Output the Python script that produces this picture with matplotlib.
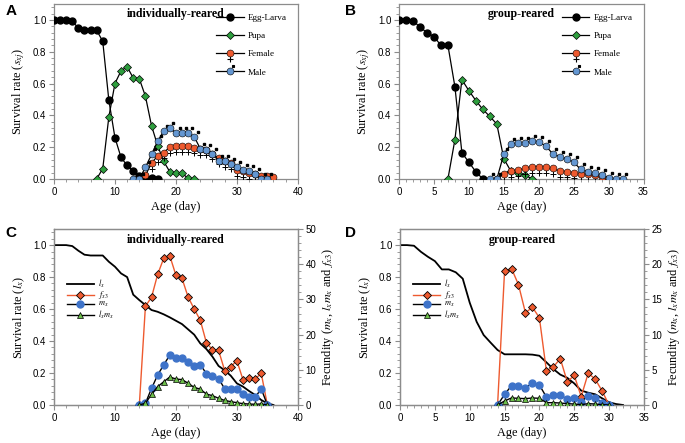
import matplotlib
matplotlib.use("Agg")
import matplotlib.pyplot as plt
import numpy as np
from matplotlib.lines import Line2D
from matplotlib.legend_handler import HandlerLine2D
from matplotlib.ticker import MultipleLocator, FormatStrFormatter
from matplotlib.transforms import ScaledTranslation

plt.rcParams['font.family'] = ['Liberation Sans', 'DejaVu Sans']
plt.rcParams['mathtext.fontset'] = 'stix'

# ---- A: individually-reared, age-stage survival ----
a_egg_x = np.arange(0, 18)
a_egg = [1.0, 1.0, 1.0, 0.99, 0.95, 0.935, 0.935, 0.935, 0.865, 0.495, 0.26,
         0.135, 0.085, 0.05, 0.02, 0.01, 0.005, 0.0]
a_pupa_x = np.arange(7, 24)
a_pupa = [0.0, 0.065, 0.39, 0.60, 0.68, 0.705, 0.635, 0.63, 0.52, 0.335, 0.21,
          0.11, 0.045, 0.035, 0.035, 0.005, 0.0]
a_fem_x = np.arange(14, 37)
a_fem = [0.0, 0.023, 0.10, 0.145, 0.166, 0.20, 0.208, 0.208, 0.208, 0.197, 0.19,
         0.185, 0.16, 0.13, 0.115, 0.098, 0.054, 0.05, 0.035, 0.03, 0.02, 0.017, 0.012]
a_male_x = np.arange(13, 36)
a_male = [0.0, 0.0, 0.073, 0.154, 0.237, 0.30, 0.32, 0.29, 0.29, 0.287, 0.266,
          0.19, 0.18, 0.16, 0.115, 0.11, 0.095, 0.073, 0.056, 0.05, 0.03, 0.0, 0.0]

# ---- B: group-reared, age-stage survival ----
b_egg_x = np.arange(0, 13)
b_egg = [1.0, 1.0, 0.995, 0.955, 0.92, 0.895, 0.84, 0.84, 0.58, 0.165, 0.105, 0.045, 0.0]
b_pupa_x = np.arange(7, 20)
b_pupa = [0.0, 0.247, 0.624, 0.555, 0.493, 0.437, 0.393, 0.345, 0.127, 0.05,
          0.037, 0.027, 0.0]
b_fem_x = np.arange(14, 31)
b_fem = [0.0, 0.033, 0.052, 0.056, 0.066, 0.077, 0.077, 0.073, 0.066, 0.05, 0.046,
         0.04, 0.031, 0.03, 0.023, 0.015, 0.0]
b_male_x = np.arange(13, 33)
b_male = [0.0, 0.0, 0.156, 0.218, 0.225, 0.225, 0.239, 0.233, 0.208, 0.158, 0.141,
          0.127, 0.106, 0.06, 0.046, 0.037, 0.027, 0.008, 0.0, 0.0]

# ---- C: individually-reared, lx / fx3 / mx / lxmx ----
c_lx_x = np.arange(0, 37)
c_lx = [1.0, 1.0, 1.0, 0.994, 0.965, 0.94, 0.935, 0.935, 0.935, 0.896, 0.865,
        0.823, 0.80, 0.69, 0.656, 0.625, 0.594, 0.583, 0.567, 0.548, 0.527, 0.506,
        0.473, 0.44, 0.385, 0.35, 0.302, 0.244, 0.217, 0.183, 0.135, 0.115, 0.0875,
        0.0625, 0.031, 0.01, 0.0]
c_fx_x = np.arange(14, 36)
c_fx3 = [0.0, 28.1, 30.6, 37.1, 41.7, 42.4, 36.9, 36.0, 30.7, 27.3, 24.1, 17.7,
         15.7, 15.5, 9.8, 10.9, 12.6, 7.2, 7.7, 7.4, 9.0, 0.0]
c_mx = [0.0, 0.5, 4.7, 8.5, 11.4, 14.2, 13.4, 13.4, 12.3, 11.0, 11.5, 8.9, 8.3,
        7.5, 4.6, 4.6, 4.6, 3.1, 2.3, 2.2, 4.6, 0.0]
c_lxmx = [0.0, 0.5, 3.0, 5.2, 6.6, 7.95, 7.4, 7.2, 6.2, 5.0, 4.5, 3.1, 2.65,
          1.9, 1.3, 0.95, 0.66, 0.38, 0.28, 0.2, 0.3, 0.0]

# ---- D: group-reared, lx / fx3 / mx / lxmx ----
d_lx_x = np.arange(0, 33)
d_lx = [1.0, 1.0, 0.996, 0.958, 0.927, 0.90, 0.848, 0.848, 0.83, 0.79, 0.64,
        0.52, 0.4375, 0.39, 0.344, 0.317, 0.317, 0.317, 0.317, 0.315, 0.308,
        0.267, 0.225, 0.19, 0.17, 0.135, 0.09, 0.077, 0.067, 0.042, 0.017, 0.006, 0.0]
d_fx_x = np.arange(14, 31)
d_fx3 = [0.0, 19.0, 19.4, 17.1, 13.1, 13.9, 12.4, 4.9, 5.4, 6.6, 3.3, 4.2, 1.2,
         4.5, 3.7, 2.0, 0.0]
d_mx = [0.0, 1.5, 2.75, 2.7, 2.46, 3.08, 2.84, 1.14, 1.42, 1.42, 0.8, 0.95, 0.47,
        1.28, 0.95, 0.33, 0.0]
d_lxmx = [0.0, 0.57, 1.0, 0.95, 0.9, 1.0, 0.95, 0.33, 0.33, 0.28, 0.19, 0.14,
          0.05, 0.19, 0.14, 0.05, 0.0]

GREEN = '#2e9e3e'
RED = '#ee5a2f'
BLUE = '#6497d2'
BLUE2 = '#3e73c9'
SPINE = '#8c8c8c'
SERIF = ['Liberation Serif', 'DejaVu Serif']


class HandlerSex(HandlerLine2D):
    # adds the little sex sign next to the circle marker in the legend
    def __init__(self, sym, dx, dy, ms, **kw):
        super().__init__(**kw)
        self.sym, self.dx, self.dy, self.ms = sym, dx, dy, ms

    def create_artists(self, legend, orig_handle, xdescent, ydescent, width,
                       height, fontsize, trans):
        arts = super().create_artists(legend, orig_handle, xdescent, ydescent,
                                      width, height, fontsize, trans)
        cx = width / 2 - xdescent
        cy = height / 2 - ydescent
        extra = Line2D([cx + self.dx], [cy + self.dy], marker=self.sym, color='k',
                       ms=self.ms, mew=0.8, ls='none', transform=trans)
        return [extra] + list(arts)


def style_axes(ax, xmax, xmaj, xmin):
    ax.set_xlim(0, xmax)
    ax.set_ylim(0, 1.1)
    ax.xaxis.set_major_locator(MultipleLocator(xmaj))
    ax.xaxis.set_minor_locator(MultipleLocator(xmin))
    ax.yaxis.set_major_locator(MultipleLocator(0.2))
    ax.yaxis.set_minor_locator(MultipleLocator(0.04))
    ax.yaxis.set_major_formatter(FormatStrFormatter('%.1f'))
    for s in ax.spines.values():
        s.set_color(SPINE)
        s.set_linewidth(0.9)
    ax.tick_params(which='both', direction='out', color=SPINE, labelsize=7, pad=2)
    ax.tick_params(which='major', length=3.5)
    ax.tick_params(which='minor', length=2)
    ax.set_xlabel('Age (day)', family=SERIF, fontsize=8.8, labelpad=3)


def survival_panel(ax, title, egg_x, egg, pupa_x, pupa, fem_x, fem, male_x, male, xmax, xmaj, xmin):
    ms = 5
    down = ScaledTranslation(0, -4.2 / 72, ax.figure.dpi_scale_trans)
    upr = ScaledTranslation(2.6 / 72, 3.6 / 72, ax.figure.dpi_scale_trans)
    ax.plot(egg_x, egg, '-o', color='k', mfc='k', mec='k', ms=ms, lw=0.9, zorder=3)
    ax.plot(pupa_x, pupa, '-D', color='k', mfc=GREEN, mec='k', mew=0.5, ms=4.2, lw=0.9, zorder=4)
    ax.plot(fem_x, fem, '+', color='k', ms=4, mew=0.7, transform=ax.transData + down, zorder=4)
    ax.plot(fem_x, fem, '-o', color='k', mfc=RED, mec='k', mew=0.4, ms=ms, lw=0.9, zorder=5)
    ax.plot(male_x, male, 's', color='k', ms=1.6, transform=ax.transData + upr, zorder=5)
    ax.plot(male_x, male, '-o', color='k', mfc=BLUE, mec='k', mew=0.4, ms=ms, lw=0.9, zorder=6)
    style_axes(ax, xmax, xmaj, xmin)
    ax.set_ylabel('Survival rate ($s_{xj}$)', family=SERIF, fontsize=8.8, labelpad=4)
    ax.text(0.5, 0.975, title, transform=ax.transAxes, ha='center', va='top',
            family=SERIF, fontweight='bold', fontsize=8.6)
    h_egg = Line2D([], [], color='k', marker='o', mfc='k', ms=ms, lw=0.9)
    h_pupa = Line2D([], [], color='k', marker='D', mfc=GREEN, mec='k', mew=0.5, ms=4.2, lw=0.9)
    h_fem = Line2D([], [], color='k', marker='o', mfc=RED, mec='k', mew=0.4, ms=ms, lw=0.9)
    h_male = Line2D([], [], color='k', marker='o', mfc=BLUE, mec='k', mew=0.4, ms=ms, lw=0.9)
    ax.legend([h_egg, h_pupa, h_fem, h_male], ['Egg-Larva', 'Pupa', 'Female', 'Male'],
              loc='upper right', bbox_to_anchor=(0.99, 0.99), frameon=False,
              prop={'family': SERIF, 'size': 6.6}, handlelength=3.0, handletextpad=0.5,
              labelspacing=1.05,
              handler_map={h_fem: HandlerSex('+', 0, -4.0, 4),
                           h_male: HandlerSex('s', 2.6, 3.6, 1.6)})


def fecundity_panel(ax, title, lx_x, lx, fx_x, fx3, mx, lxmx, xmax, xmaj, xmin, rmax, rstep):
    ax2 = ax.twinx()
    l1, = ax.plot(lx_x, lx, '-', color='k', lw=1.3, zorder=3)
    l2, = ax2.plot(fx_x, fx3, '-D', color=RED, mfc=RED, mec='k', mew=0.6, ms=4.5, lw=1.0, zorder=3)
    l3, = ax2.plot(fx_x, mx, '-o', color='k', mfc=BLUE2, mec=BLUE2, ms=5, lw=1.0, zorder=4)
    l4, = ax2.plot(fx_x, lxmx, '-^', color='k', mfc='#6cbf4a', mec='k', mew=0.5, ms=4.2, lw=1.0, zorder=5)
    style_axes(ax, xmax, xmaj, xmin)
    ax.set_ylabel('Survival rate ($l_x$)', family=SERIF, fontsize=8.8, labelpad=4)
    ax2.set_ylim(0, rmax)
    ax2.yaxis.set_major_locator(MultipleLocator(rstep))
    ax2.yaxis.set_minor_locator(MultipleLocator(rstep / 5))
    for s in ax2.spines.values():
        s.set_color(SPINE)
        s.set_linewidth(0.9)
    ax2.tick_params(which='both', direction='out', color=SPINE, labelsize=7, pad=2)
    ax2.tick_params(which='major', length=3.5)
    ax2.tick_params(which='minor', length=2)
    ax2.set_ylabel('Fecundity ($m_x$, $l_xm_x$ and $f_{x3}$)', family=SERIF,
                   fontsize=8.8, labelpad=3)
    ax.text(0.5, 0.975, title, transform=ax.transAxes, ha='center', va='top',
            family=SERIF, fontweight='bold', fontsize=8.6)
    ax2.legend([l1, l2, l3, l4], ['$l_x$', '$f_{x3}$', '$m_x$', '$l_xm_x$'],
               loc='upper left', bbox_to_anchor=(0.03, 0.755), frameon=False,
               prop={'family': SERIF, 'size': 6.0}, handlelength=3.2,
               handletextpad=0.5, labelspacing=-0.12, borderpad=0.2,
               handleheight=0.4)


fig = plt.figure(figsize=(6.85, 4.43), dpi=100)
axA = fig.add_axes([0.0788, 0.596, 0.356, 0.395])
axB = fig.add_axes([0.5825, 0.596, 0.357, 0.395])
axC = fig.add_axes([0.0788, 0.0858, 0.356, 0.397])
axD = fig.add_axes([0.584, 0.0858, 0.356, 0.397])

survival_panel(axA, 'individually-reared', a_egg_x, a_egg, a_pupa_x, a_pupa,
               a_fem_x, a_fem, a_male_x, a_male, 40, 10, 2)
survival_panel(axB, 'group-reared', b_egg_x, b_egg, b_pupa_x, b_pupa,
               b_fem_x, b_fem, b_male_x, b_male, 35, 5, 1)
fecundity_panel(axC, 'individually-reared', c_lx_x, c_lx, c_fx_x, c_fx3, c_mx, c_lxmx,
                40, 10, 2, 50, 10)
fecundity_panel(axD, 'group-reared', d_lx_x, d_lx, d_fx_x, d_fx3, d_mx, d_lxmx,
                35, 5, 1, 25, 5)

for lab, x, y in [('A', 0.008, 0.975), ('B', 0.503, 0.975), ('C', 0.008, 0.475), ('D', 0.503, 0.475)]:
    fig.text(x, y, lab, fontsize=11, fontweight='bold', ha='left', va='center')

fig.savefig('out.png', dpi=100)
